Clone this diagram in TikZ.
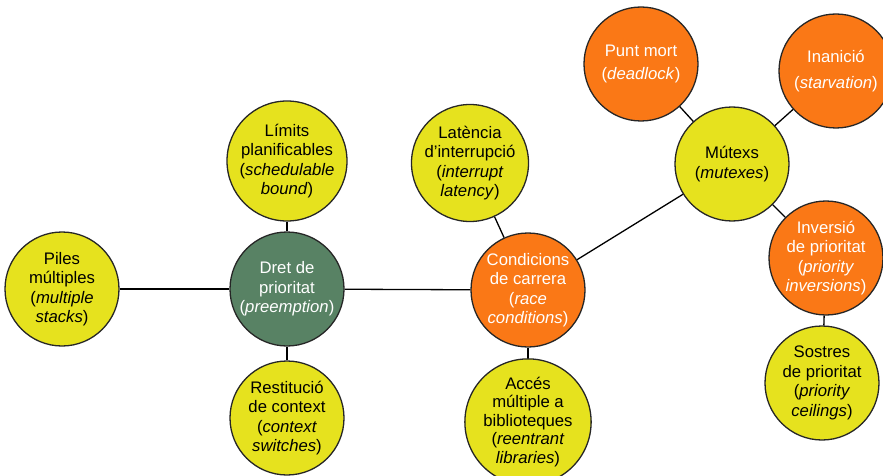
\documentclass[tikz,border=0pt]{standalone}
\usepackage{fontspec}
\setmainfont{Liberation Sans}
\usepackage{tikz}
\usetikzlibrary{positioning}
\definecolor{topicyellow}{RGB}{230,226,30}
\definecolor{topicorange}{RGB}{250,120,22}
\definecolor{topicgreen}{RGB}{88,130,100}

\begin{document}
\begin{tikzpicture}[x=1pt, y=-1pt, line width=1.3pt,
    font=\fontsize{16.7}{19.5}\selectfont,
    topic/.style={draw=black!85, circle, minimum size=114pt, inner sep=0pt, align=center},
    minor/.style={topic, fill=topicyellow, text=black},
    major/.style={topic, fill=topicorange, text=white},
    root/.style={topic, fill=topicgreen, text=white}]
    \useasboundingbox (0,0) rectangle (883,476);

    \node[root] (preempt) at (287,289) {Dret de\\prioritat\\(\textit{preemption})};
    \node[minor] (stacks) at (62,289) {Piles\\múltiples\\(\textit{multiple}\\\textit{stacks})};
    \node[minor] (bound) at (287,161) {Límits\\planificables\\(\textit{schedulable}\\\textit{bound})};
    \node[minor] (switches) at (287,418) {Restitució\\de context\\(\textit{context}\\\textit{switches})};

    \node[major] (race) at (528,290) {Condicions\\de carrera\\(\textit{race}\\\textit{conditions})};
    \node[minor] (latency) at (470,163) {Latència\\d’interrupció\\(\textit{interrupt}\\\textit{latency})};
    \node[minor, font=\fontsize{16.7}{18.5}\selectfont] (libs) at (528,422) {Accés\\múltiple a\\biblioteques\\(\textit{reentrant}\\\textit{libraries})};

    \node[minor] (mutex) at (732,164) {Mútexs\\(\textit{mutexes})};
    \node[major] (deadlock) at (641,64) {Punt mort\\[3pt](\textit{deadlock})};
    \node[major] (starve) at (836,71) {Inanició\\[6pt](\textit{starvation})};
    \node[major] (inversion) at (826,258) {Inversió\\de prioritat\\(\textit{priority}\\\textit{inversions})};
    \node[minor] (ceiling) at (822,383) {Sostres\\de prioritat\\(\textit{priority}\\\textit{ceilings})};

    \draw (stacks) -- (preempt);
    \draw (bound) -- (preempt);
    \draw (switches) -- (preempt);
    \draw (preempt) -- (race);
    \draw (latency) -- (race);
    \draw (libs) -- (race);
    \draw (race) -- (mutex);
    \draw (deadlock) -- (mutex);
    \draw (starve) -- (mutex);
    \draw (inversion) -- (mutex);
    \draw (inversion) -- (ceiling);
\end{tikzpicture}
\end{document}
